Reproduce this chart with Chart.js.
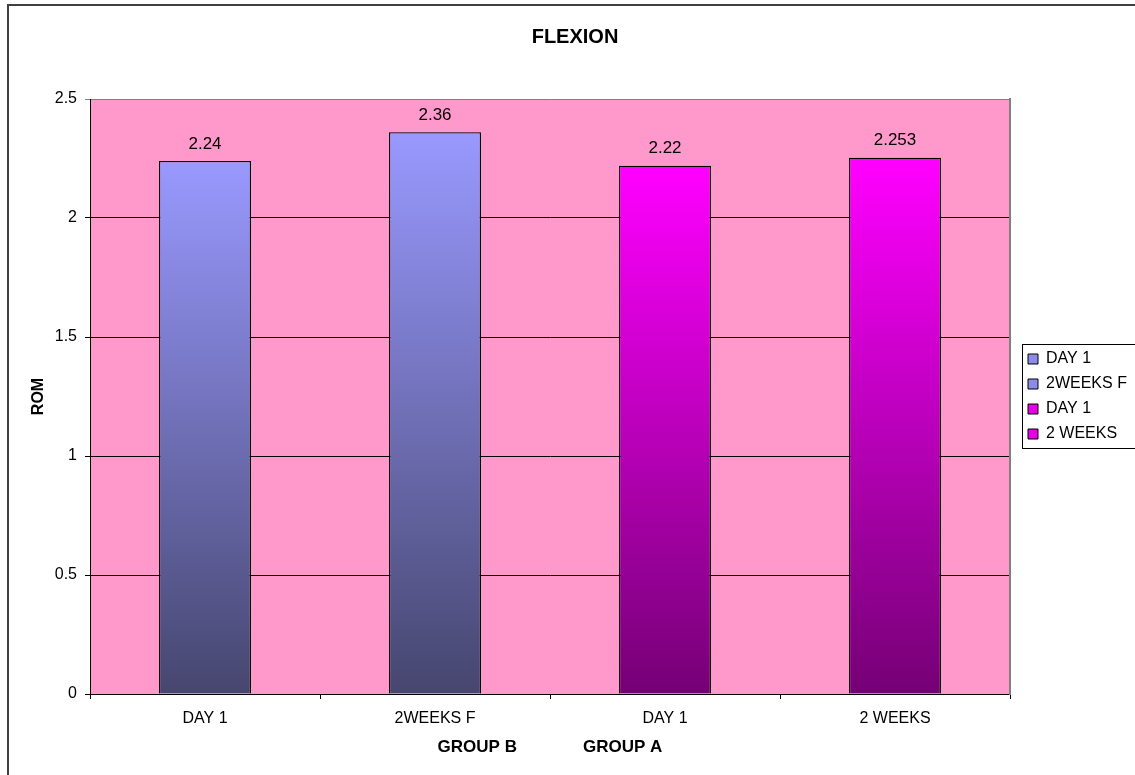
<!DOCTYPE html>
<html lang="en">
<head>
  <meta charset="UTF-8">
  <title>FLEXION</title>
  <style>
    body { margin: 0; background: #fff; }
    canvas { display: block; }
  </style>
</head>
<body>
  <canvas id="flexionChart" width="1135" height="775"></canvas>

  <script src="https://cdn.jsdelivr.net/npm/chart.js"></script>
  <script>
    // values
    const categories = ['DAY 1', '2WEEKS F', 'DAY 1', '2 WEEKS'];
    const romValues = [2.24, 2.36, 2.22, 2.253];
    const legendLabels = ['DAY 1', '2WEEKS F', 'DAY 1', '2 WEEKS'];
    const groupTitle = 'GROUP B              GROUP A';

    const topColors = ['#9999FF', '#9999FF', '#FF00FF', '#FF00FF'];
    const bottomColors = ['#46466F', '#46466F', '#750075', '#750075'];
    const legendColors = ['#8C8CE8', '#8C8CE8', '#E600E6', '#E600E6'];

    Chart.defaults.font.family = '"Liberation Sans", Arial, sans-serif';
    Chart.defaults.font.size = 16;
    Chart.defaults.color = '#000';

    function barFill(context) {
      const i = context.dataIndex;
      const chart = context.chart;
      const area = chart.chartArea;
      if (!area || !chart.scales.y) return topColors[i];
      const top = chart.scales.y.getPixelForValue(romValues[i]);
      const g = chart.ctx.createLinearGradient(0, top, 0, area.bottom);
      g.addColorStop(0, topColors[i]);
      g.addColorStop(1, bottomColors[i]);
      return g;
    }

    // white page, outer frame, pink plot area, legend box
    const frame = {
      id: 'frame',
      beforeDraw(chart) {
        const { ctx, chartArea: a } = chart;
        ctx.save();
        ctx.fillStyle = '#fff';
        ctx.fillRect(0, 0, chart.width, chart.height);
        ctx.fillStyle = '#404040';
        ctx.fillRect(7, 4, 2, chart.height);
        ctx.fillRect(7, 4, chart.width, 2);
        ctx.fillStyle = '#FF99CC';
        ctx.fillRect(a.left, a.top, a.right - a.left, a.bottom - a.top);
        ctx.restore();
      },
      afterDraw(chart) {
        const boxes = chart.legend && chart.legend.legendHitBoxes;
        if (!boxes || !boxes.length) return;
        const ctx = chart.ctx;
        const first = boxes[0], last = boxes[boxes.length - 1];
        ctx.save();
        ctx.strokeStyle = '#000';
        ctx.lineWidth = 1;
        ctx.strokeRect(Math.round(first.left) - 5.5, Math.round(first.top) - 6.5,
          chart.width, last.top + last.height - first.top + 13);
        ctx.restore();
      }
    };

    // numbers above the bars
    const valueLabels = {
      id: 'valueLabels',
      afterDatasetsDraw(chart) {
        const ctx = chart.ctx;
        const meta = chart.getDatasetMeta(0);
        ctx.save();
        ctx.font = '17px "Liberation Sans", Arial, sans-serif';
        ctx.fillStyle = '#000';
        ctx.textAlign = 'center';
        ctx.textBaseline = 'middle';
        meta.data.forEach((bar, i) => {
          ctx.fillText(String(romValues[i]), bar.x, bar.y - 17);
        });
        ctx.restore();
      }
    };

    const ctx = document.getElementById('flexionChart').getContext('2d');
    new Chart(ctx, {
      type: 'bar',
      data: {
        labels: categories,
        datasets: [{
          label: 'ROM',
          data: romValues,
          backgroundColor: barFill,
          borderColor: '#000',
          borderWidth: 1.3,
          barPercentage: 0.4,
          categoryPercentage: 1.0
        }]
      },
      options: {
        responsive: false,
        animation: false,
        layout: { padding: { left: 15, right: 0, top: 0, bottom: 0 } },
        scales: {
          x: {
            grid: { drawOnChartArea: false, tickLength: 5, color: '#000' },
            border: { color: '#000' },
            ticks: { padding: 10, font: { size: 16 } },
            title: {
              display: true,
              text: groupTitle,
              font: { size: 17, weight: 'bold' },
              padding: { top: 0, bottom: 17.8 }
            },
            afterFit(scale) { scale.height = 81; }
          },
          y: {
            min: 0,
            max: 2.5,
            ticks: {
              stepSize: 0.5,
              padding: 8,
              font: { size: 16 },
              callback: (v) => String(v)
            },
            grid: {
              tickLength: 5,
              color: (c) => (c.tick && c.tick.value === 2.5 ? '#808080' : '#000')
            },
            border: { color: '#000' },
            title: {
              display: true,
              text: 'ROM',
              font: { size: 16, weight: 'bold' },
              padding: { top: 14.4, bottom: 0 }
            },
            afterFit(scale) { scale.width = 75; }
          },
          y1: {
            type: 'linear',
            position: 'right',
            min: 0,
            max: 2.5,
            grid: { display: false },
            ticks: { display: false },
            border: { color: '#808080', width: 2 },
            afterFit(scale) { scale.width = 9; }
          }
        },
        plugins: {
          title: {
            display: true,
            text: 'FLEXION',
            font: { size: 20, weight: 'bold' },
            padding: { top: 25.5, bottom: 49.5 }
          },
          legend: {
            position: 'right',
            fullSize: false,
            maxWidth: 116,
            labels: {
              boxWidth: 10,
              boxHeight: 10,
              padding: 9,
              font: { size: 16 },
              generateLabels: () => legendLabels.map((text, i) => ({
                text: text,
                fillStyle: legendColors[i],
                strokeStyle: '#000',
                lineWidth: 1,
                fontColor: '#000',
                index: i
              }))
            }
          },
          tooltip: { enabled: false }
        }
      },
      plugins: [frame, valueLabels]
    });
  </script>
</body>
</html>
